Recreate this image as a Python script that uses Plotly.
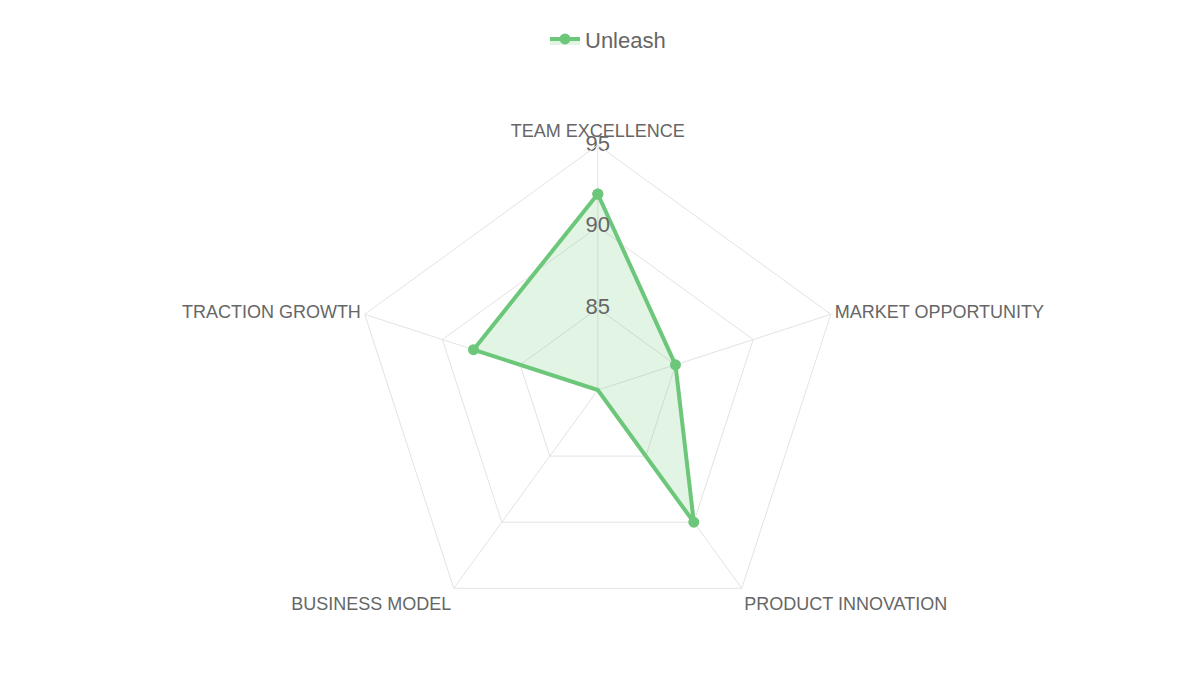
import plotly.graph_objects as go

categories = ['TEAM EXCELLENCE', 'MARKET OPPORTUNITY', 'PRODUCT INNOVATION', 'BUSINESS MODEL', 'TRACTION GROWTH']
unleash = [92, 85, 90, 80, 88]
radial_ticks = [85, 90, 95]

fig = go.Figure()
fig.add_trace(go.Scatterpolar(
    r=unleash + [unleash[0]],
    theta=categories + [categories[0]],
    fill='toself',
    fillcolor='rgba(108,199,122,0.2)',
    line=dict(color='#6cc77a', width=4),
    marker=dict(size=11, color='#6cc77a'),
    mode='lines+markers',
    name='Unleash'
))
# radial tick labels drawn upright on the top spoke
fig.add_trace(go.Scatterpolar(
    r=radial_ticks,
    theta=[categories[0]] * len(radial_ticks),
    mode='text',
    text=[str(v) for v in radial_ticks],
    textfont=dict(size=22, color='#666'),
    textposition='middle center',
    showlegend=False,
    hoverinfo='skip'
))

fig.update_layout(
    width=1200, height=675,
    margin=dict(l=0, r=0, t=0, b=0),
    paper_bgcolor='white',
    font=dict(family='Liberation Sans, Arial', color='#666'),
    showlegend=True,
    legend=dict(orientation='h', x=0.5, xanchor='center', y=0.985, yanchor='top',
                font=dict(size=22, color='#666')),
    polar=dict(
        domain=dict(x=[0.287, 0.696], y=[0.071, 0.797]),
        bgcolor='white',
        gridshape='linear',
        angularaxis=dict(rotation=90, direction='clockwise', gridcolor='#e3e3e3',
                         linecolor='#e3e3e3', showline=True, ticks='',
                         tickfont=dict(size=18, color='#666')),
        radialaxis=dict(range=[80, 95], tickvals=radial_ticks, angle=90,
                        showticklabels=False,
                        gridcolor='#e3e3e3', showline=False, ticks=''),
    ),
)

fig.write_html("out.html")
